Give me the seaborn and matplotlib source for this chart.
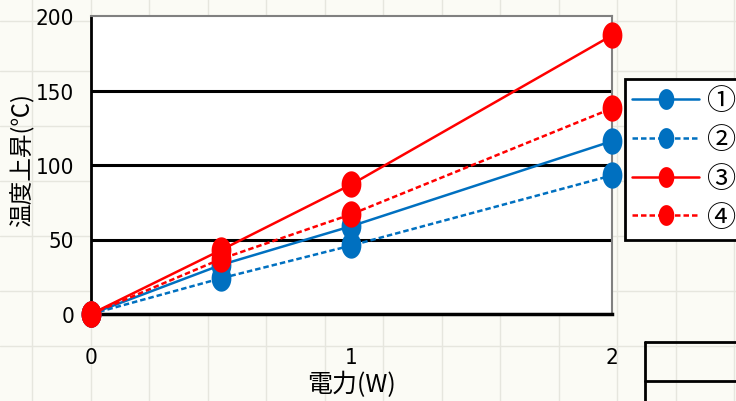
import numpy as np
import pandas as pd
import seaborn as sns
import matplotlib.pyplot as plt
from matplotlib.lines import Line2D

# power (W) vs temperature rise, four conditions
power = [0, 0.5, 1, 2]
s1 = [0, 33, 59, 116]
s2 = [0, 24, 46, 93]
s3 = [0, 43, 87, 187]
s4 = [0, 37, 67, 138]
names = ['①', '②', '③', '④']
x_ticks = [0, 1, 2]
y_ticks = [0, 50, 100, 150, 200]

df = pd.concat([
    pd.DataFrame({'power': power, 'temp': v, 'series': n})
    for n, v in zip(names, [s1, s2, s3, s4])
])

blue = '#0070c0'
red = '#ff0000'
palette = {'①': blue, '②': blue, '③': red, '④': red}
dashes = {'①': '', '②': (2.2, 1.2), '③': '', '④': (2.2, 1.2)}

# slightly tall ellipse marker like the original
t = np.linspace(0, 2 * np.pi, 40)
ell = list(zip(0.75 * np.cos(t), np.sin(t)))

sns.set_style('white')
plt.rcParams['font.family'] = ['Noto Sans CJK JP', 'DejaVu Sans']
plt.rcParams['text.color'] = 'black'
plt.rcParams['axes.labelcolor'] = 'black'
plt.rcParams['xtick.color'] = 'black'
plt.rcParams['ytick.color'] = 'black'

fig = plt.figure(figsize=(7.36, 4.02), dpi=100)
fig.patch.set_facecolor('#fbfbf5')

# faint spreadsheet cells behind the chart
for gx in np.arange(32, 736, 58.5):
    fig.add_artist(Line2D([gx / 736, gx / 736], [0, 1], color='#e6e6de', lw=1, zorder=0))
for gy in [22, 72, 127, 182, 237, 292, 347]:
    fig.add_artist(Line2D([0, 1], [1 - gy / 402, 1 - gy / 402], color='#e6e6de', lw=1, zorder=0))

ax = fig.add_axes([91 / 736, 1 - 315 / 402, (612 - 91) / 736, (315 - 17) / 402])
ax.set_facecolor('white')

sns.lineplot(data=df, x='power', y='temp', hue='series', style='series',
             palette=palette, dashes=dashes, markers={n: ell for n in names},
             markersize=19, markeredgewidth=0, linewidth=1.8, legend=False,
             ax=ax, clip_on=False, zorder=5)

ax.set_xlim(0, 2)
ax.set_ylim(0, 200)
ax.set_xticks(x_ticks)
ax.set_yticks(y_ticks)
for yv in [50, 100, 150]:
    ax.axhline(yv, color='black', lw=2.2, zorder=1)

for side in ['top', 'right']:
    ax.spines[side].set_color('#808080')
    ax.spines[side].set_linewidth(1.5)
ax.spines['left'].set_color('black')
ax.spines['left'].set_linewidth(2)
ax.spines['bottom'].set_color('black')
ax.spines['bottom'].set_linewidth(2.5)

ax.tick_params(axis='y', length=0, pad=12, labelcolor='black')
ax.tick_params(axis='x', direction='in', length=5, width=1.2, pad=24, labelcolor='black')
for lab in ax.get_xticklabels() + ax.get_yticklabels():
    lab.set_family(['DejaVu Sans'])
    lab.set_stretch('condensed')
    lab.set_fontsize(16)

ax.set_xlabel('電力(W)', fontsize=18, color='black')
ax.set_ylabel('温度上昇(℃)', fontsize=17, color='black')
ax.xaxis.set_label_coords(0.5, -0.19)
ax.yaxis.set_label_coords(-0.108, 0.52)

handles = [Line2D([], [], color=palette[n], lw=1.8,
                  linestyle='-' if dashes[n] == '' else (0, dashes[n]),
                  marker=ell, markersize=15, markeredgewidth=0)
           for n in names]
leg = fig.legend(handles, names, loc='upper left',
                 bbox_to_anchor=(625 / 736, 1 - 80 / 402),
                 frameon=True, fancybox=False, fontsize=21,
                 handlelength=2.3, handletextpad=0.25, labelspacing=0.3,
                 borderpad=0.25, borderaxespad=0, labelcolor='black')
leg.get_frame().set_edgecolor('black')
leg.get_frame().set_linewidth(2)
leg.get_frame().set_alpha(1)

# edge of a neighbouring table, cut off by the frame
fig.add_artist(Line2D([645 / 736, 1], [1 - 343 / 402] * 2, color='black', lw=2))
fig.add_artist(Line2D([645 / 736, 1], [1 - 382 / 402] * 2, color='black', lw=2))
fig.add_artist(Line2D([645 / 736] * 2, [0, 1 - 343 / 402], color='black', lw=2))

fig.savefig('out.png', dpi=100, facecolor=fig.get_facecolor())
